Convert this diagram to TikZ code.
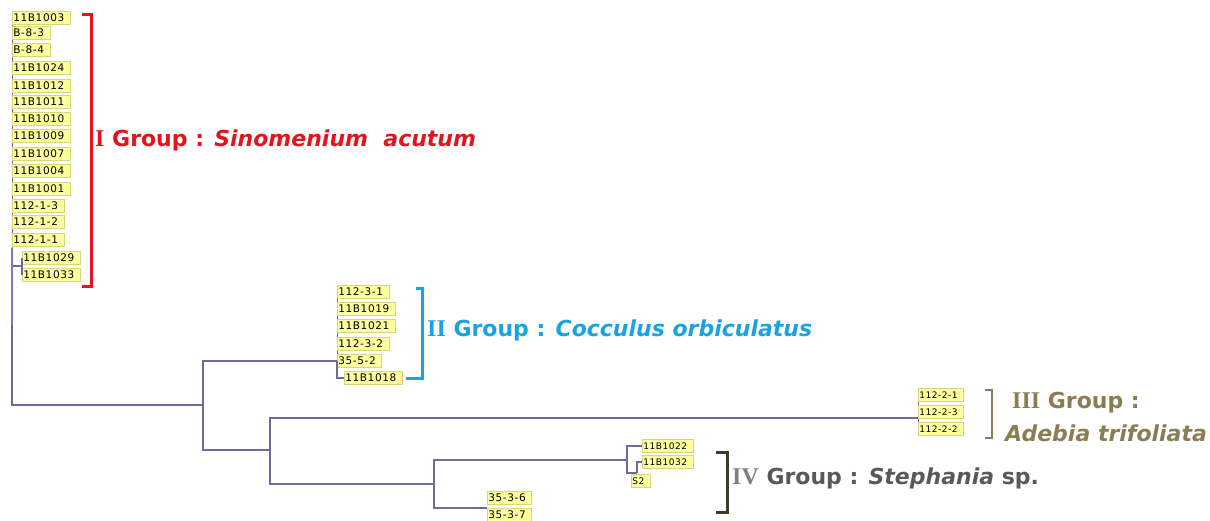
\documentclass[tikz,border=0pt]{standalone}
\usepackage{fontspec}
\newfontfamily\leaffont[LetterSpace=6]{DejaVu Sans}
\newfontfamily\gfont{DejaVu Sans}
\newfontfamily\numfont{Liberation Serif}
\definecolor{lfill}{HTML}{FFFF9E}
\definecolor{lbord}{HTML}{D6D67A}
\definecolor{treec}{HTML}{6E6C9E}
\definecolor{treeth}{HTML}{7C7AC2}
\definecolor{cred}{HTML}{E5131C}
\definecolor{cblue}{HTML}{1AA3DE}
\definecolor{colive}{HTML}{8A7D52}
\definecolor{cgray}{HTML}{595959}
\definecolor{cgraylt}{HTML}{7F7F7F}
\definecolor{cdark}{HTML}{3F3B2A}
\tikzset{
  leaf/.style={draw=lbord, fill=lfill, line width=0.6pt, anchor=west,
    minimum height=12.5pt, inner xsep=1pt, inner ysep=0pt,
    font=\leaffont\fontsize{10.5}{10.5}\selectfont, text height=7.6pt, text depth=0pt,
    execute at end node=\hspace*{5pt}},
  sleaf/.style={leaf, font=\leaffont\fontsize{9}{9}\selectfont, text height=6.6pt},
  tree/.style={draw=treec, line width=1.2pt},
  tick/.style={draw=treec, line width=0.6pt},
  brk/.style={line width=3pt},
  glabel/.style={anchor=base west, inner sep=0pt, font=\gfont\bfseries\fontsize{22}{22}\selectfont},
  numf/.style={},
}
\newcommand{\rn}[1]{{\numfont\fontsize{24}{24}\selectfont #1}}
\begin{document}
\begin{tikzpicture}[x=1pt,y=-1pt]
\useasboundingbox (0,0) rectangle (1210,521);
% ticks behind the leaf boxes
\draw[tick] (12.5,18) -- (12.5,250);
\draw[tick] (337.5,292) -- (337.5,361);
\draw[tick] (918.5,395) -- (918.5,429);
% Group I leaves
\foreach \t/\y [count=\i] in {11B1003/18, B-8-3/33, B-8-4/50, 11B1024/68, 11B1012/86,
  11B1011/102, 11B1010/119, 11B1009/136, 11B1007/154, 11B1004/171, 11B1001/189,
  112-1-3/206, 112-1-2/222, 112-1-1/240}
  \node[leaf] (a\i) at (12,\y) {\t};
\node[leaf] (a15) at (22,258) {11B1029};
\node[leaf] (a16) at (22,275) {11B1033};
% Group II leaves
\foreach \t/\y [count=\i] in {112-3-1/292, 11B1019/309, 11B1021/326, 112-3-2/344, 35-5-2/361}
  \node[leaf] (b\i) at (337,\y) {\t};
\node[leaf] (b6) at (344,378) {11B1018};
% Group III leaves
\node[sleaf] (c1) at (918,395) {112-2-1};
\node[sleaf] (c2) at (918,412) {112-2-3};
\node[sleaf] (c3) at (918,429) {112-2-2};
% Group IV leaves
\node[sleaf] (d1) at (642,446) {11B1022};
\node[sleaf] (d2) at (642,462) {11B1032};
\node[sleaf] (d3) at (631,481) {S2};
\node[leaf] (e1) at (487,498) {35-3-6};
\node[leaf] (e2) at (487,515) {35-3-7};
% internal nodes
\coordinate (j1) at (12,266);
\coordinate (root) at (12,405);
\coordinate (n1) at (203,405);
\coordinate (n2) at (270,450);
\coordinate (n3) at (434,484);
\coordinate (n4) at (627,460);
\coordinate (n5) at (637,473);
\coordinate (c23) at (918,418);
\coordinate (e12) at (487,508);
% tree
\draw[tree] (a15.west) -- (a16.west);
\draw[tree] (j1) -- (22,266);
\draw[draw=treeth, line width=2.6pt] (12,248) -- (12,325);
\draw[tree] (12,325) -- (root) -- (n1);
\draw[tree] (b5.west) -| (n1) |- (n2);
\draw[tree] (b5.west) |- (b6.west);
\draw[tree] (c23) -| (n2) |- (n3);
\draw[tree] (n4) -| (n3) |- (e12);
\draw[tree] (d1.west) -| (n4) |- (n5);
\draw[tree] (n5) |- (d2.west);
% brackets
\draw[brk, cred] (82,15) -- (91,15) -- (91,287) -- (82,287);
\draw[brk, cblue] (416,289) -- (422,289) -- (422,378) -- (406,378);
\draw[brk, colive, line width=2.6pt] (985,390) -- (992,390) -- (992,438) -- (985,438);
\draw[brk, cdark] (716,452) -- (727,452) -- (727,512) -- (716,512);
% group labels
\node[glabel, text=cred] (lI) at (95,147)
  {\rn{I} Group : \itshape Sinomenium~~acutum};
\node[glabel, text=cblue] (lII) at (427,336)
  {\rn{II} Group : \itshape Cocculus orbiculatus};
\node[glabel, text=colive] (lIII) at (1012,408)
  {\rn{III} Group :};
\node[glabel, text=colive] (lIIIb) at (1005,441) {\itshape Adebia trifoliata};
\node[glabel, text=cgray] (lIV) at (732,484)
  {{\color{cgraylt}\rn{IV}} Group : {\itshape Stephania} sp.};
\end{tikzpicture}
\end{document}
